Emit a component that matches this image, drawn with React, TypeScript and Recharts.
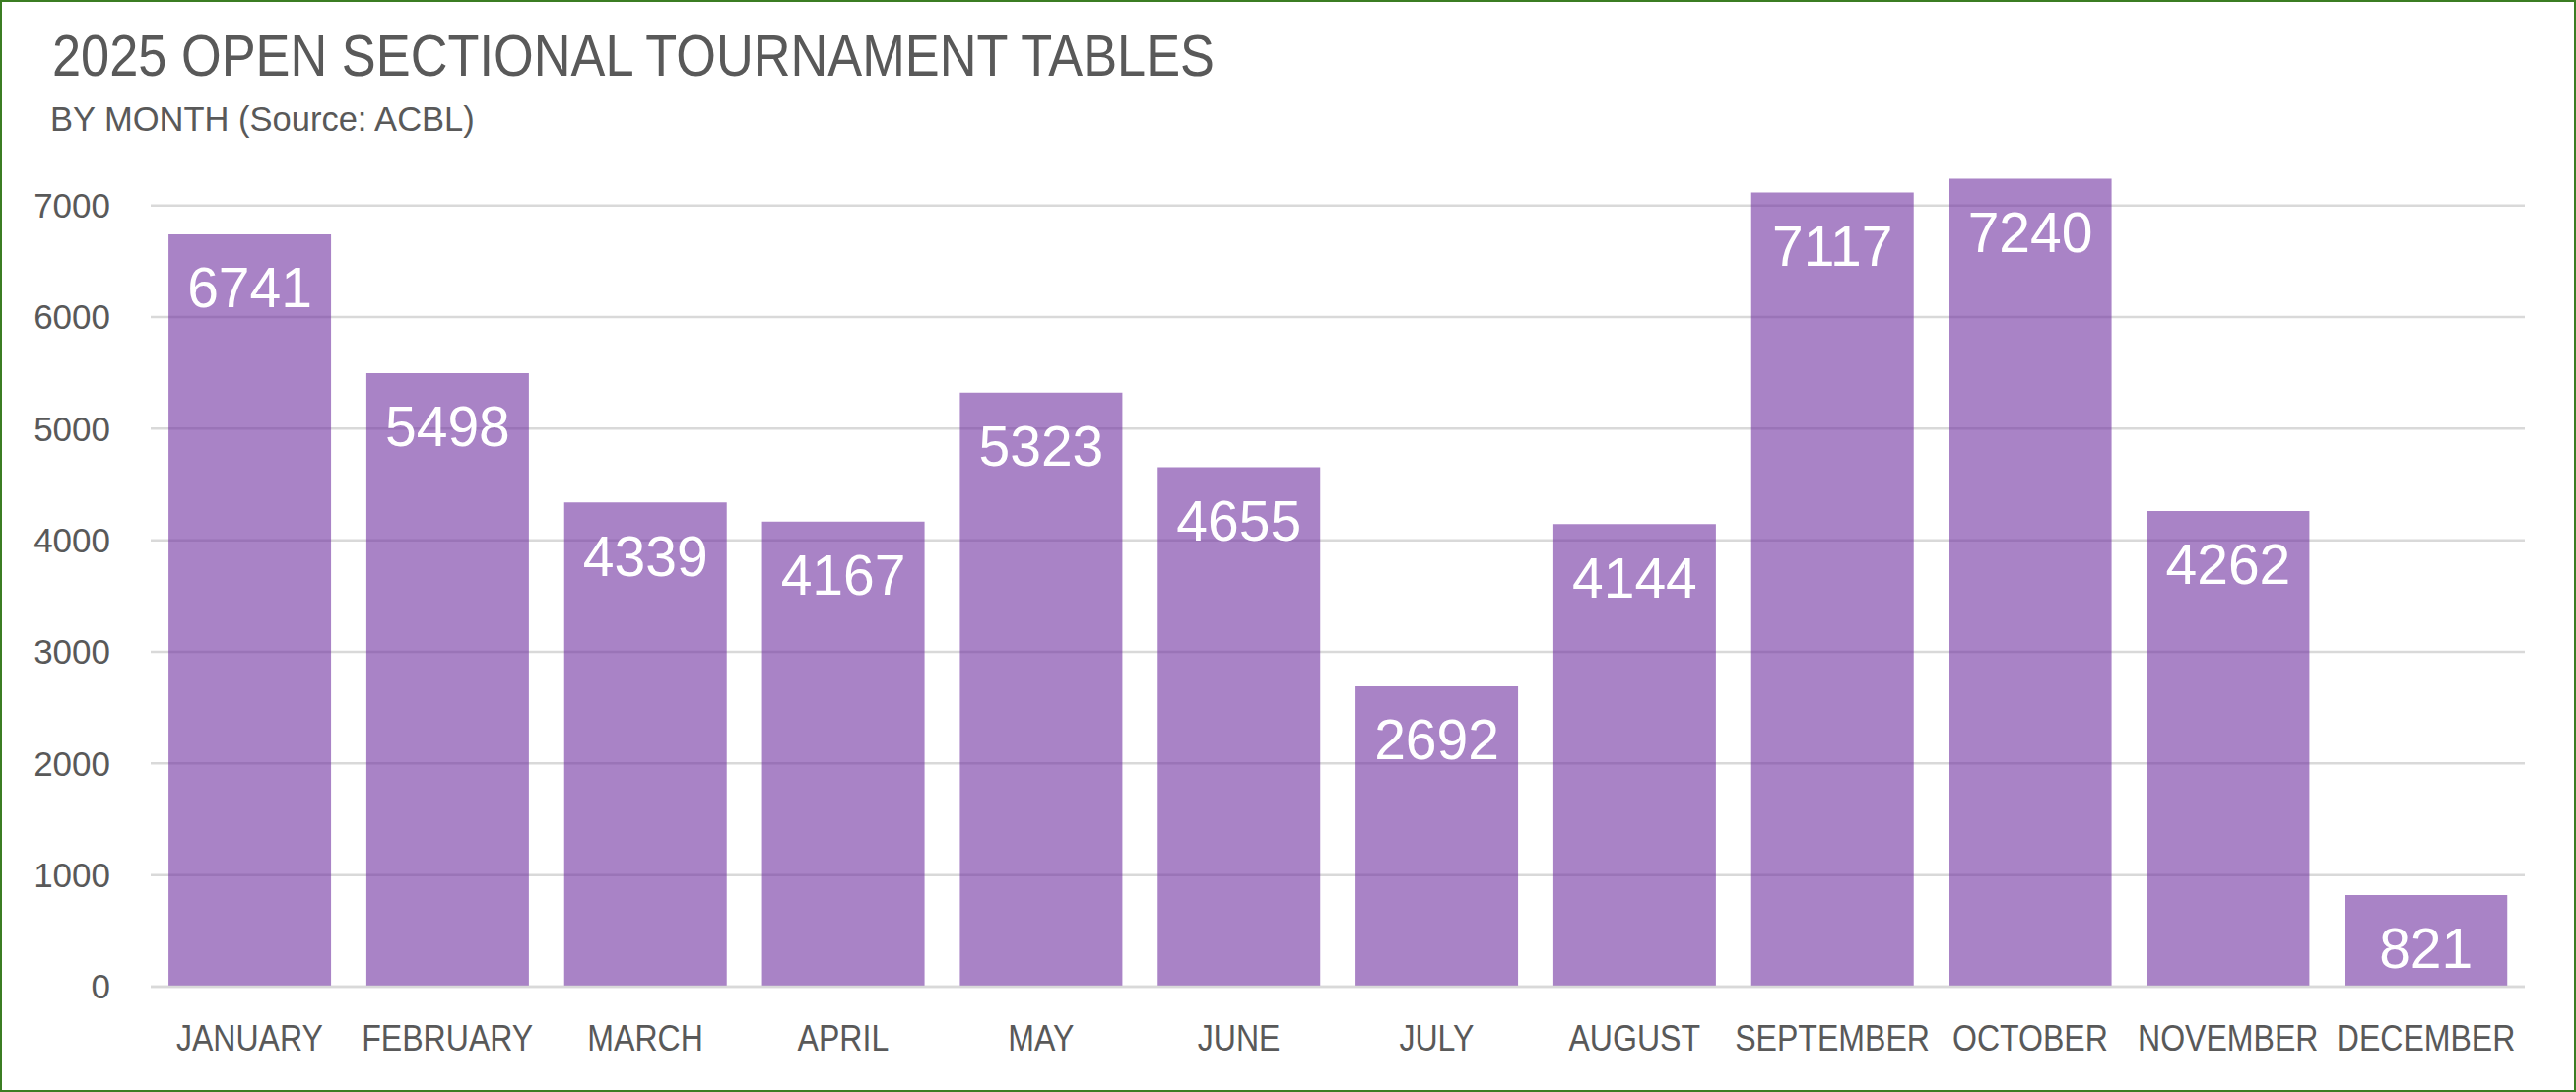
import React from "react";
import { BarChart, Bar, XAxis, YAxis, CartesianGrid, LabelList } from "recharts";

const months = ["JANUARY", "FEBRUARY", "MARCH", "APRIL", "MAY", "JUNE", "JULY", "AUGUST", "SEPTEMBER", "OCTOBER", "NOVEMBER", "DECEMBER"];
const tables = [6741, 5498, 4339, 4167, 5323, 4655, 2692, 4144, 7117, 7240, 4262, 821];
const yTicks = [0, 1000, 2000, 3000, 4000, 5000, 6000, 7000];
const titleText = "2025 OPEN SECTIONAL TOURNAMENT TABLES";
const subtitleText = "BY MONTH (Source: ACBL)";

const data = months.map((m, i) => ({ month: m, value: tables[i] }));

const W = 2615;
const H = 1109;
const TEXT = "#595959";
const SANS = "'Liberation Sans', Arial, sans-serif";
const SQUEEZE = 0.855;

function MonthTick(props: any) {
  const { x, y, payload } = props;
  return (
    <text
      x={x}
      y={y}
      dy="0.71em"
      textAnchor="middle"
      fill={TEXT}
      fontSize={37.5}
      fontFamily={SANS}
      transform={`translate(${x} 0) scale(${SQUEEZE} 1) translate(${-x} 0)`}
    >
      {payload.value}
    </text>
  );
}

export default function App() {
  return (
    <div style={{ position: "fixed", left: 0, top: 0, width: W, height: H, background: "#fff" }}>
      <div style={{ position: "absolute", left: 0, top: 0 }}>
        <BarChart
          width={W}
          height={H}
          data={data}
          margin={{ top: 152, right: 52, bottom: 0, left: 0 }}
          barCategoryGap="9%"
        >
          <CartesianGrid vertical={false} syncWithTicks stroke="#d9d9d9" strokeWidth={2.5} />
          <XAxis
            dataKey="month"
            height={107}
            tickLine={false}
            tickSize={0}
            tickMargin={38}
            axisLine={{ stroke: "#d9d9d9", strokeWidth: 2.5 }}
            interval={0}
            tick={<MonthTick />}
          />
          <YAxis
            width={153}
            domain={[0, 7500]}
            ticks={yTicks}
            allowDataOverflow
            axisLine={false}
            tickLine={false}
            tickSize={0}
            tickMargin={41}
            tick={{ fill: TEXT, fontSize: 35, fontFamily: SANS }}
          />
          <Bar dataKey="value" fill="#7030A0" fillOpacity={0.6} isAnimationActive={false}>
            <LabelList
              dataKey="value"
              position="insideTop"
              offset={34}
              fill="#ffffff"
              fontSize={57}
              fontFamily={SANS}
            />
          </Bar>
        </BarChart>
      </div>
      <svg
        width={W}
        height={H}
        style={{ position: "absolute", left: 0, top: 0, pointerEvents: "none" }}
      >
        <text
          x={53}
          y={77}
          fill={TEXT}
          fontSize={60}
          fontFamily={SANS}
          textLength={1180}
          lengthAdjust="spacingAndGlyphs"
        >
          {titleText}
        </text>
        <text x={51} y={133} fill={TEXT} fontSize={34.5} fontFamily={SANS}>
          {subtitleText}
        </text>
      </svg>
      <div
        style={{
          position: "absolute",
          left: 0,
          top: 0,
          width: W,
          height: H,
          boxSizing: "border-box",
          border: "2.5px solid #3b7d23",
          pointerEvents: "none",
        }}
      />
    </div>
  );
}
